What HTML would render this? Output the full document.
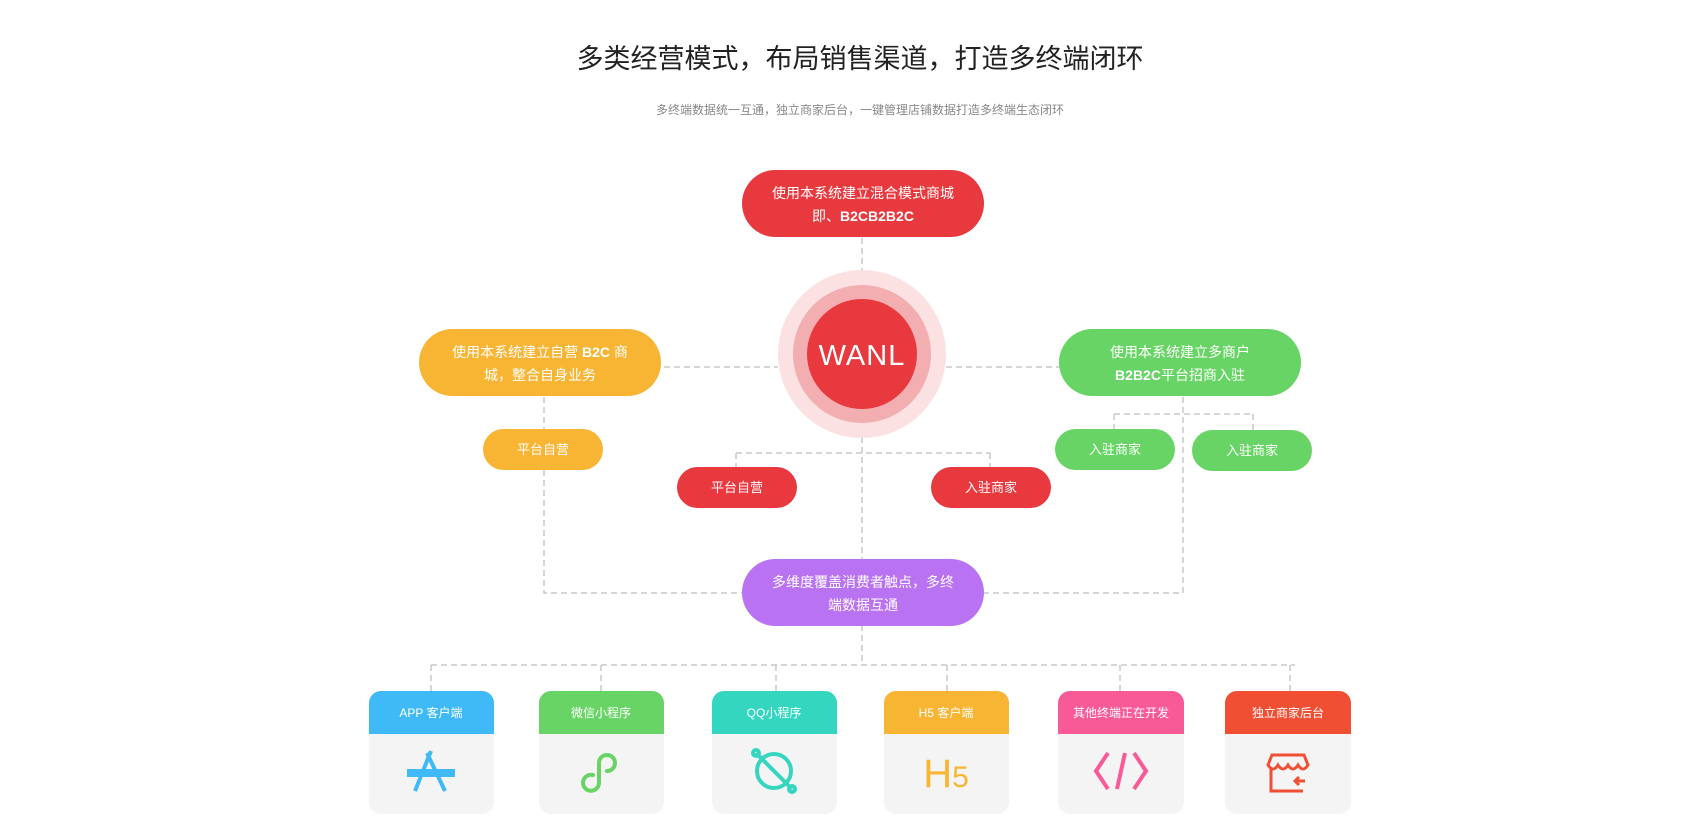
<!DOCTYPE html>
<html><head><meta charset="utf-8"><style>
html,body{margin:0;padding:0;background:#fff;}
svg{display:block;}
text{font-family:"Liberation Sans","Noto Sans CJK SC",sans-serif;}
</style></head><body>
<svg width="1688" height="830" viewBox="0 0 1688 830" xmlns="http://www.w3.org/2000/svg">
<text x="860" y="68" text-anchor="middle" font-size="27" fill="#222">多类经营模式，布局销售渠道，打造多终端闭环</text>
<text x="860" y="114" text-anchor="middle" font-size="12" fill="#888">多终端数据统一互通，独立商家后台，一键管理店铺数据打造多终端生态闭环</text>

<g stroke="#c8c8c8" stroke-width="1.5" stroke-dasharray="6,4" fill="none">
<path d="M862 238V272"/>
<path d="M614 367H778M946 367H1060"/>
<path d="M862 437V560"/>
<path d="M736 453H990M736 453V467M990 453V467"/>
<path d="M544 397V430M544 470V593H742"/>
<path d="M1183 397V593H984"/>
<path d="M1114 414H1253M1114 414V430M1253 414V430"/>
<path d="M862 625V665"/>
<path d="M431 665H1295"/>
<path d="M431 665V691M601 665V691M776 665V691M947 665V691M1120 665V691M1290 665V691"/>
</g>

<rect x="742" y="170" width="242" height="67" rx="33.5" fill="#e8393f"/>
<text x="863" y="198" text-anchor="middle" font-size="14" fill="#fff">使用本系统建立混合模式商城</text>
<text x="863" y="221" text-anchor="middle" font-size="14" fill="#fff">即、<tspan font-weight="bold">B2CB2B2C</tspan></text>

<circle cx="862" cy="354" r="84" fill="#fbe1e2"/>
<circle cx="862" cy="354" r="69" fill="#f2aeb0"/>
<circle cx="862" cy="354" r="55" fill="#e8393f"/>
<text x="862" y="365" text-anchor="middle" font-size="29" fill="#fff" letter-spacing="1">WANL</text>

<rect x="419" y="329" width="242" height="67" rx="33.5" fill="#f8b533"/>
<text x="540" y="357" text-anchor="middle" font-size="14" fill="#fff">使用本系统建立自营 <tspan font-weight="bold">B2C</tspan> 商</text>
<text x="540" y="380" text-anchor="middle" font-size="14" fill="#fff">城，整合自身业务</text>
<rect x="483" y="429" width="120" height="41" rx="20.5" fill="#f8b533"/>
<text x="543" y="454" text-anchor="middle" font-size="13" fill="#fff">平台自营</text>

<rect x="1059" y="329" width="242" height="67" rx="33.5" fill="#68d465"/>
<text x="1180" y="357" text-anchor="middle" font-size="14" fill="#fff">使用本系统建立多商户</text>
<text x="1180" y="380" text-anchor="middle" font-size="14" fill="#fff"><tspan font-weight="bold">B2B2C</tspan>平台招商入驻</text>
<rect x="1055" y="429" width="120" height="41" rx="20.5" fill="#68d465"/>
<text x="1115" y="454" text-anchor="middle" font-size="13" fill="#fff">入驻商家</text>
<rect x="1192" y="430" width="120" height="41" rx="20.5" fill="#68d465"/>
<text x="1252" y="455" text-anchor="middle" font-size="13" fill="#fff">入驻商家</text>

<rect x="677" y="467" width="120" height="41" rx="20.5" fill="#e8393f"/>
<text x="737" y="492" text-anchor="middle" font-size="13" fill="#fff">平台自营</text>
<rect x="931" y="467" width="120" height="41" rx="20.5" fill="#e8393f"/>
<text x="991" y="492" text-anchor="middle" font-size="13" fill="#fff">入驻商家</text>

<rect x="742" y="559" width="242" height="67" rx="33.5" fill="#b872f2"/>
<text x="863" y="587" text-anchor="middle" font-size="14" fill="#fff">多维度覆盖消费者触点，多终</text>
<text x="863" y="610" text-anchor="middle" font-size="14" fill="#fff">端数据互通</text>

<g font-size="12" text-anchor="middle" fill="#fff">
<g transform="translate(369,691)"><rect width="125" height="123" rx="12" fill="#f4f4f4"/><path d="M0 43V12A12 12 0 0 1 12 0H113A12 12 0 0 1 125 12V43Z" fill="#3fbaf7"/><text x="62" y="26">APP 客户端</text>
<g stroke="#3fbaf7" stroke-width="4" fill="none"><path d="M46 100L62 60M58 62L76 100"/><path d="M38 82H86" stroke-width="8"/></g></g>
<g transform="translate(539,691)"><rect width="125" height="123" rx="12" fill="#f4f4f4"/><path d="M0 43V12A12 12 0 0 1 12 0H113A12 12 0 0 1 125 12V43Z" fill="#68d465"/><text x="62" y="26">微信小程序</text>
<path d="M54 84A8 8 0 1 0 60 92V72A8 8 0 1 1 68 80" stroke="#68d465" stroke-width="4" fill="none" stroke-linecap="round"/></g>
<g transform="translate(712,691)"><rect width="125" height="123" rx="12" fill="#f4f4f4"/><path d="M0 43V12A12 12 0 0 1 12 0H113A12 12 0 0 1 125 12V43Z" fill="#35d6bf"/><text x="62" y="26">QQ小程序</text>
<g stroke="#35d6bf" stroke-width="4" fill="none"><circle cx="62" cy="80" r="17"/><path d="M44 62L80 98"/><circle cx="44" cy="62" r="3"/><circle cx="80" cy="98" r="3"/></g></g>
<g transform="translate(884,691)"><rect width="125" height="123" rx="12" fill="#f4f4f4"/><path d="M0 43V12A12 12 0 0 1 12 0H113A12 12 0 0 1 125 12V43Z" fill="#f8b533"/><text x="62" y="26">H5 客户端</text>
<text x="62" y="96" font-size="40" fill="#f8b533">H<tspan font-size="30">5</tspan></text></g>
<g transform="translate(1058,691)"><rect width="126" height="123" rx="12" fill="#f4f4f4"/><path d="M0 43V12A12 12 0 0 1 12 0H114A12 12 0 0 1 126 12V43Z" fill="#f85a97"/><text x="63" y="26">其他终端正在开发</text>
<g stroke="#f85a97" stroke-width="4" fill="none"><path d="M50 62L38 80L50 98M76 62L88 80L76 98M67 62L59 98"/></g></g>
<g transform="translate(1225,691)"><rect width="126" height="123" rx="12" fill="#f4f4f4"/><path d="M0 43V12A12 12 0 0 1 12 0H114A12 12 0 0 1 126 12V43Z" fill="#f04f33"/><text x="63" y="26">独立商家后台</text>
<g stroke="#f04f33" stroke-width="3" fill="none"><path d="M47 64H79L83 74Q78 82 73 74Q68 82 63 74Q58 82 53 74Q48 82 43 74Z"/><path d="M46 78V100H78M80 90H70M74 86L70 90L74 94"/></g></g>
</g>
</svg>
</body></html>
